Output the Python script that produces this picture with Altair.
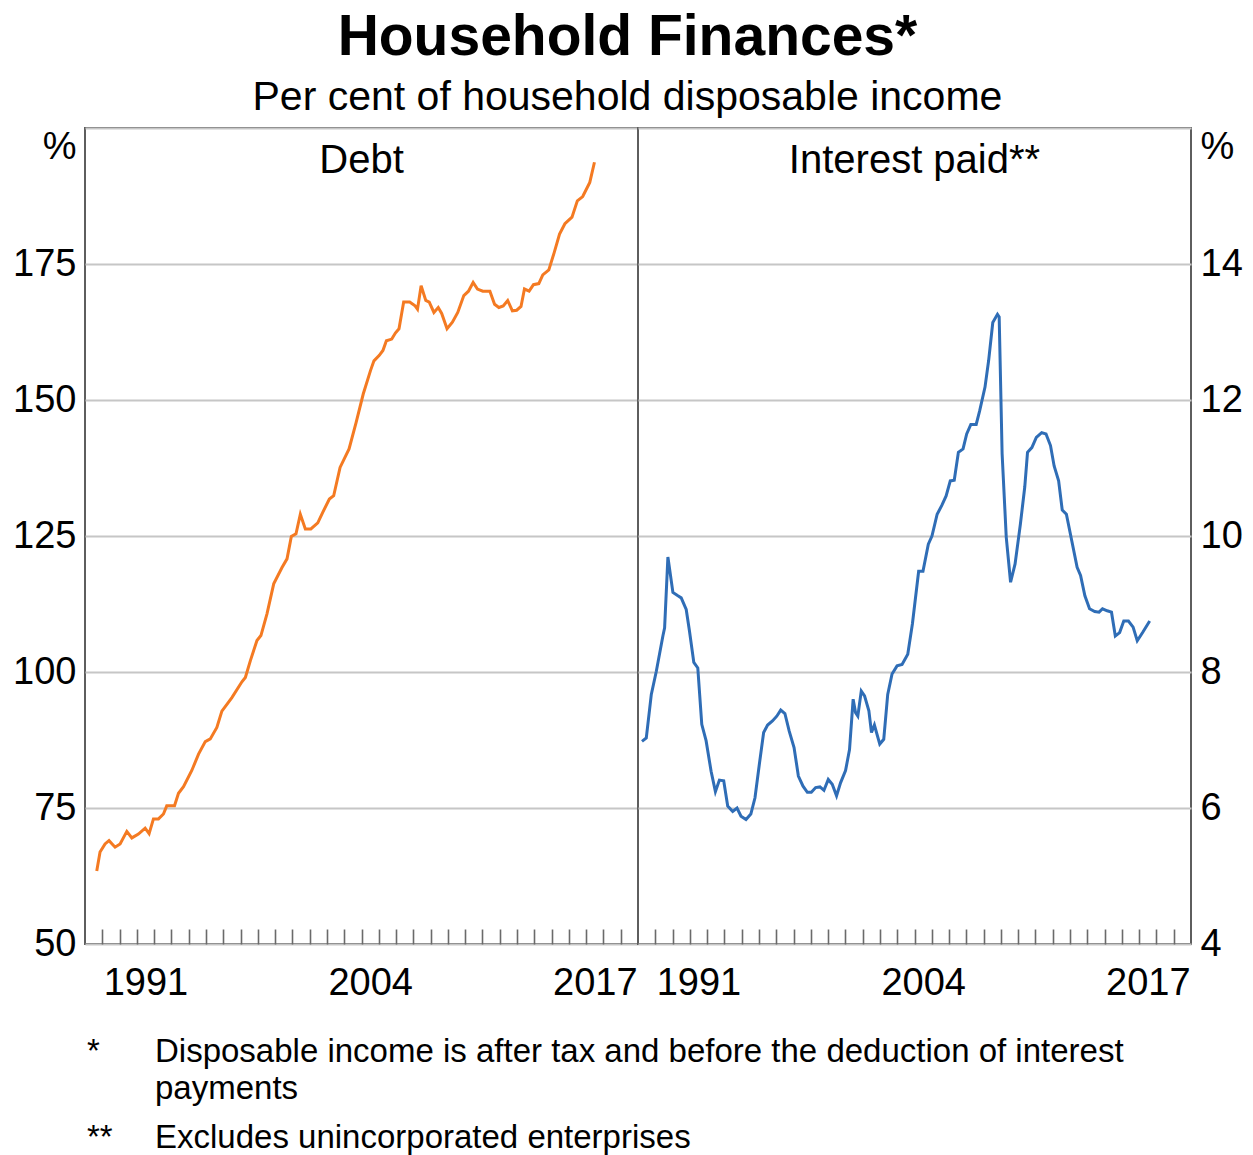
import altair as alt
import pandas as pd

# ---- data (year, per cent) ----
debt_points = [
    (1988.68, 63.4), (1988.87, 66.9), (1989.16, 68.4), (1989.39, 69.0), (1989.74, 67.8),
    (1990.03, 68.4), (1990.42, 70.7), (1990.71, 69.5), (1991.09, 70.2), (1991.48, 71.3),
    (1991.71, 70.3), (1991.96, 73.0), (1992.25, 73.0), (1992.54, 73.9), (1992.73, 75.4),
    (1993.18, 75.4), (1993.41, 77.7), (1993.70, 78.9), (1994.18, 81.9), (1994.57, 84.9),
    (1994.96, 87.2), (1995.25, 87.7), (1995.63, 89.8), (1995.92, 92.8), (1996.50, 95.3),
    (1997.08, 98.2), (1997.28, 99.0), (1997.57, 102.1), (1997.95, 105.8), (1998.18, 106.7),
    (1998.53, 110.7), (1998.92, 116.2), (1999.40, 119.2), (1999.69, 120.8), (1999.94, 124.9),
    (2000.21, 125.4), (2000.46, 129.0), (2000.75, 126.3), (2001.07, 126.3), (2001.47, 127.4),
    (2001.75, 129.3), (2002.14, 131.8), (2002.39, 132.4), (2002.76, 137.6), (2003.28, 141.0),
    (2003.69, 145.9), (2004.10, 151.1), (2004.52, 155.4), (2004.72, 157.2), (2005.03, 158.2),
    (2005.24, 159.1), (2005.44, 160.9), (2005.75, 161.2), (2005.96, 162.3), (2006.17, 163.1),
    (2006.44, 168.0), (2006.79, 168.0), (2007.10, 167.3), (2007.24, 166.7), (2007.45, 171.0),
    (2007.72, 168.3), (2007.92, 168.0), (2008.19, 166.1), (2008.44, 167.0), (2008.64, 165.9),
    (2008.95, 163.1), (2009.26, 164.3), (2009.57, 166.1), (2009.92, 169.2), (2010.19, 170.0),
    (2010.46, 171.6), (2010.71, 170.4), (2011.02, 170.0), (2011.43, 170.0), (2011.70, 167.6),
    (2011.95, 167.0), (2012.20, 167.3), (2012.46, 168.3), (2012.73, 166.4), (2012.98, 166.5),
    (2013.23, 167.2), (2013.43, 170.4), (2013.70, 170.0), (2013.95, 171.2), (2014.26, 171.4),
    (2014.49, 173.0), (2014.84, 173.9), (2015.15, 177.1), (2015.46, 180.5), (2015.77, 182.4),
    (2016.18, 183.6), (2016.49, 186.6), (2016.80, 187.4), (2017.21, 190.0), (2017.48, 193.7),
]

interest_points = [
    (1988.23, 6.98), (1988.48, 7.03), (1988.77, 7.67), (1989.06, 8.01), (1989.44, 8.53),
    (1989.54, 8.65), (1989.73, 9.69), (1990.02, 9.17), (1990.31, 9.12), (1990.50, 9.09),
    (1990.79, 8.92), (1990.98, 8.60), (1991.23, 8.14), (1991.46, 8.06), (1991.69, 7.23),
    (1991.94, 6.99), (1992.23, 6.54), (1992.48, 6.24), (1992.71, 6.41), (1992.96, 6.40),
    (1993.19, 6.03), (1993.48, 5.95), (1993.73, 6.00), (1993.96, 5.88), (1994.25, 5.83),
    (1994.53, 5.91), (1994.77, 6.15), (1995.02, 6.64), (1995.27, 7.11), (1995.50, 7.22),
    (1995.78, 7.28), (1996.03, 7.35), (1996.26, 7.44), (1996.50, 7.39), (1996.75, 7.13),
    (1997.03, 6.89), (1997.28, 6.47), (1997.55, 6.32), (1997.80, 6.23), (1998.03, 6.23),
    (1998.28, 6.30), (1998.53, 6.31), (1998.76, 6.26), (1999.01, 6.42), (1999.24, 6.35),
    (1999.49, 6.18), (1999.72, 6.37), (2000.01, 6.55), (2000.24, 6.86), (2000.45, 7.60),
    (2000.59, 7.40), (2000.72, 7.35), (2000.92, 7.72), (2001.11, 7.65), (2001.36, 7.43),
    (2001.51, 7.11), (2001.68, 7.22), (2001.99, 6.94), (2002.22, 7.01), (2002.45, 7.67),
    (2002.70, 7.97), (2002.99, 8.09), (2003.28, 8.11), (2003.61, 8.26), (2003.88, 8.71),
    (2004.24, 9.48), (2004.49, 9.48), (2004.80, 9.88), (2005.01, 10.00), (2005.31, 10.32),
    (2005.58, 10.45), (2005.83, 10.59), (2006.07, 10.81), (2006.30, 10.82), (2006.54, 11.23),
    (2006.81, 11.28), (2007.02, 11.50), (2007.26, 11.64), (2007.57, 11.64), (2007.77, 11.84),
    (2008.08, 12.19), (2008.29, 12.58), (2008.53, 13.14), (2008.80, 13.26), (2008.90, 13.22),
    (2009.07, 11.21), (2009.31, 9.98), (2009.56, 9.32), (2009.82, 9.59), (2010.13, 10.18),
    (2010.38, 10.72), (2010.54, 11.23), (2010.79, 11.30), (2011.05, 11.45), (2011.36, 11.52),
    (2011.61, 11.50), (2011.87, 11.33), (2012.08, 11.03), (2012.34, 10.81), (2012.55, 10.38),
    (2012.79, 10.32), (2013.10, 9.93), (2013.41, 9.54), (2013.61, 9.42), (2013.86, 9.12),
    (2014.13, 8.93), (2014.43, 8.89), (2014.68, 8.88), (2014.88, 8.93), (2015.15, 8.90),
    (2015.40, 8.88), (2015.62, 8.53), (2015.87, 8.58), (2016.11, 8.75), (2016.38, 8.75),
    (2016.65, 8.66), (2016.89, 8.46), (2017.20, 8.58), (2017.61, 8.75),
]

tick_years = list(range(1989, 2020))
label_years = [1991, 2004, 2017]
debt_ticks = [50, 75, 100, 125, 150, 175, 200]
interest_ticks = [4, 6, 8, 10, 12, 14, 16]
panel_titles = ["Debt", "Interest paid**"]
title_text = "Household Finances*"
subtitle_text = "Per cent of household disposable income"
footnote_marks = ["*", "**"]
footnote_lines = [
    "Disposable income is after tax and before the deduction of interest",
    "payments",
    "Excludes unincorporated enterprises",
]

FONT = "Liberation Sans"
W, H = 553, 816
ORANGE = "#f47a22"
BLUE = "#2f6db6"
GRID = "#c6c6c6"
BORDER = "#5e5e5e"
LBL = 38

debt_df = pd.DataFrame(debt_points, columns=["year", "value"])
int_df = pd.DataFrame(interest_points, columns=["year", "value"])

x_values = tick_years + [y + 0.5 for y in label_years]


def x_enc():
    return alt.X(
        "year:Q",
        scale=alt.Scale(domain=[1988, 2020], nice=False, zero=False),
        axis=alt.Axis(
            values=x_values,
            title=None,
            grid=False,
            domain=False,
            offset=-15,
            tickSize=15,
            tickWidth=1.6,
            tickColor="#6a6a6a",
            tickOpacity={"condition": {"test": "datum.value % 1 != 0", "value": 0}, "value": 1},
            labelExpr="datum.value % 1 == 0.5 ? floor(datum.value) : ''",
            labelFlush=False,
            labelOverlap=False,
            labelPadding=20,
            labelFontSize=LBL,
            labelFont=FONT,
            labelColor="#000000",
        ),
    )


def y_enc(domain, ticks, orient):
    top = ticks[-1]
    return alt.Y(
        "value:Q",
        scale=alt.Scale(domain=domain, nice=False, zero=False),
        axis=alt.Axis(
            values=ticks,
            orient=orient,
            title=None,
            domain=False,
            ticks=False,
            grid=True,
            gridColor=GRID,
            gridWidth=1.8,
            labelPadding=9,
            labelOverlap=False,
            labelFontSize=LBL,
            labelFont=FONT,
            labelColor="#000000",
            labelExpr=f"datum.value == {top} ? '%' : datum.label",
            labelBaseline={"condition": {"test": f"datum.value == {top}", "value": "top"}, "value": "middle"},
        ),
    )


def panel_title(text):
    return alt.Chart(pd.DataFrame({"t": [text]})).mark_text(
        font=FONT, fontSize=40, baseline="middle", align="center", color="#000000"
    ).encode(x=alt.value(W / 2), y=alt.value(33), text="t:N")


debt_line = alt.Chart(debt_df).mark_line(color=ORANGE, strokeWidth=3).encode(
    x=x_enc(), y=y_enc([50, 200], debt_ticks, "left")
)
int_line = alt.Chart(int_df).mark_line(color=BLUE, strokeWidth=3).encode(
    x=x_enc(), y=y_enc([4, 16], interest_ticks, "right")
)

# footnotes (placed below the left panel, not data marks)
foot_layers = []
foot_specs = [
    (footnote_marks[0], 2, 934),
    (footnote_lines[0], 70, 934),
    (footnote_lines[1], 70, 971),
    (footnote_marks[1], 2, 1020),
    (footnote_lines[2], 70, 1020),
]
for txt, fx, fy in foot_specs:
    foot_layers.append(
        alt.Chart(pd.DataFrame({"t": [txt]})).mark_text(
            font=FONT, fontSize=33, align="left", baseline="alphabetic", color="#000000"
        ).encode(x=alt.value(fx), y=alt.value(fy), text="t:N")
    )

panel_view = alt.ViewBackground(stroke=BORDER, strokeWidth=2, fill="white")

left = alt.layer(debt_line, panel_title(panel_titles[0]), *foot_layers).properties(
    width=W, height=H, view=panel_view
)
right = alt.layer(int_line, panel_title(panel_titles[1])).properties(
    width=W, height=H, view=panel_view
)

chart = (
    alt.hconcat(left, right, spacing=0, bounds="flush")
    .properties(
        title=alt.TitleParams(
            text=title_text,
            subtitle=subtitle_text,
            font=FONT,
            subtitleFont=FONT,
            fontSize=57,
            subtitleFontSize=41,
            fontWeight="bold",
            color="#000000",
            subtitleColor="#000000",
            anchor="middle",
            subtitlePadding=11,
            offset=8,
        ),
        padding={"left": 11, "top": 9, "right": 5, "bottom": 5},
    )
    .configure_view(stroke=BORDER, strokeWidth=2)
    .configure(font=FONT, background="white")
)

chart.save("out.html", embed_options={"renderer": "svg", "actions": False})
